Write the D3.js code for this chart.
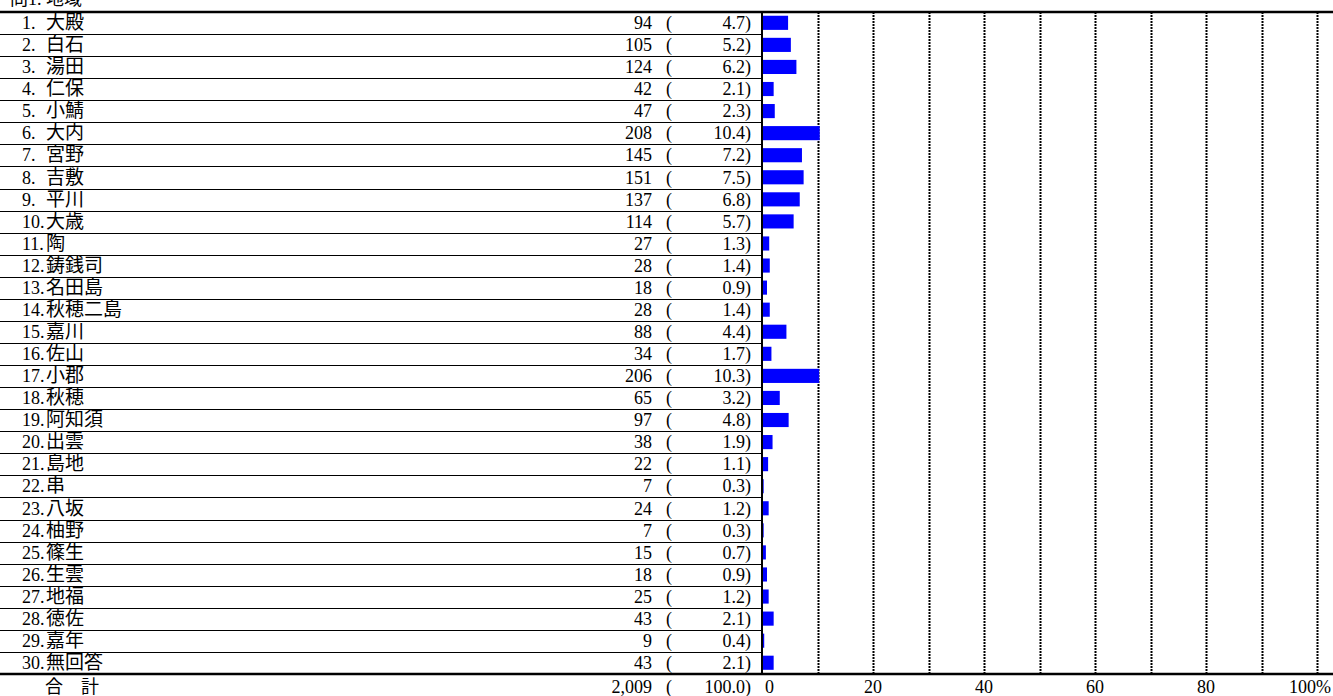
<!DOCTYPE html>
<html>
<head>
<meta charset="utf-8">
<script src="https://cdn.jsdelivr.net/npm/d3@7"></script>
<style>
  body { margin: 0; background: #fff; }
  text { font-family: "Liberation Serif", "Noto Sans CJK JP", serif; fill: #000; }
</style>
</head>
<body>
<div id="chart"></div>
<script>
// data
const titleText = "問1. 地域";
const nums = ["1.", "2.", "3.", "4.", "5.", "6.", "7.", "8.", "9.", "10.",
  "11.", "12.", "13.", "14.", "15.", "16.", "17.", "18.", "19.", "20.",
  "21.", "22.", "23.", "24.", "25.", "26.", "27.", "28.", "29.", "30."];
const names = ["大殿", "白石", "湯田", "仁保", "小鯖", "大内", "宮野", "吉敷", "平川", "大歳",
  "陶", "鋳銭司", "名田島", "秋穂二島", "嘉川", "佐山", "小郡", "秋穂", "阿知須", "出雲",
  "島地", "串", "八坂", "柚野", "篠生", "生雲", "地福", "徳佐", "嘉年", "無回答"];
const counts = [94, 105, 124, 42, 47, 208, 145, 151, 137, 114,
  27, 28, 18, 28, 88, 34, 206, 65, 97, 38,
  22, 7, 24, 7, 15, 18, 25, 43, 9, 43];
const pcts = [4.7, 5.2, 6.2, 2.1, 2.3, 10.4, 7.2, 7.5, 6.8, 5.7,
  1.3, 1.4, 0.9, 1.4, 4.4, 1.7, 10.3, 3.2, 4.8, 1.9,
  1.1, 0.3, 1.2, 0.3, 0.7, 0.9, 1.2, 2.1, 0.4, 2.1];
const totalLabel = "合　計";
const totalCount = "2,009";
const totalPct = "100.0";
const gridTicks = [10, 20, 30, 40, 50, 60, 70, 80, 90, 100];
const labelTicks = [0, 20, 40, 60, 80, 100];

const W = 1333, H = 696;
const yTop = 12, yBottom = 674, axisX = 762;

const svg = d3.select("#chart").append("svg")
    .attr("width", W)
    .attr("height", H);

const rows = names.map(function(d, i) { return i; });
const y = d3.scaleBand().domain(rows).range([yTop, yBottom]);
const x = d3.scaleLinear().domain([0, 100]).range([axisX, 1317]);

// title (cut off at the top edge, as in the original)
svg.append("text")
    .attr("x", 10).attr("y", 5)
    .style("font-size", "18px")
    .text(titleText);

// row separators on the table part
svg.selectAll(".sep")
  .data(rows.slice(1))
  .enter().append("line")
    .attr("x1", 0).attr("x2", axisX)
    .attr("y1", function(d) { return Math.round(y(d)) + 0.5; })
    .attr("y2", function(d) { return Math.round(y(d)) + 0.5; })
    .attr("stroke", "#000")
    .attr("stroke-width", 1);

// dotted grid lines
svg.selectAll(".grid")
  .data(gridTicks)
  .enter().append("line")
    .attr("x1", function(d) { return Math.round(x(d)) + 0.5; })
    .attr("x2", function(d) { return Math.round(x(d)) + 0.5; })
    .attr("y1", yTop).attr("y2", yBottom)
    .attr("stroke", "#000")
    .attr("stroke-width", 2)
    .attr("stroke-dasharray", "2,1");

// bars
svg.selectAll(".bar")
  .data(pcts)
  .enter().append("rect")
    .attr("x", x(0))
    .attr("y", function(d, i) { return y(i) + y.bandwidth() * 0.17; })
    .attr("width", function(d) { return x(d) - x(0); })
    .attr("height", y.bandwidth() * 0.64)
    .attr("fill", "#0000ff");

// row labels
const fs = "18px";
const rowG = svg.selectAll(".row")
  .data(rows)
  .enter().append("g")
    .attr("transform", function(d) { return "translate(0," + (y(d) + y.bandwidth() / 2 + 6) + ")"; })
    .style("font-size", fs);
rowG.append("text")
    .attr("x", 22)
    .text(function(d) { return nums[d]; });
rowG.append("text")
    .attr("x", 46)
    .style("font-size", "19px")
    .text(function(d) { return names[d]; });
rowG.append("text")
    .attr("x", 652).attr("text-anchor", "end")
    .text(function(d) { return counts[d]; });
rowG.append("text")
    .attr("x", 666)
    .text("(");
rowG.append("text")
    .attr("x", 751).attr("text-anchor", "end")
    .text(function(d) { return pcts[d].toFixed(1) + ")"; });

// total row
const totG = svg.append("g")
    .attr("transform", "translate(0,693)")
    .style("font-size", fs);
totG.append("text").attr("x", 45).text(totalLabel);
totG.append("text").attr("x", 652).attr("text-anchor", "end").text(totalCount);
totG.append("text").attr("x", 666).text("(");
totG.append("text").attr("x", 751).attr("text-anchor", "end").text(totalPct + ")");

// axis labels
svg.selectAll(".tick-label")
  .data(labelTicks)
  .enter().append("text")
    .attr("x", function(d) { return d === 0 ? x(d) + 3 : (d === 100 ? W - 2 : x(d)); })
    .attr("y", 693)
    .attr("text-anchor", function(d) { return d === 0 ? "start" : (d === 100 ? "end" : "middle"); })
    .style("font-size", "18px")
    .text(function(d) { return d === 100 ? d + "%" : d; });

// axis line and frame lines
svg.append("line")
    .attr("x1", axisX).attr("x2", axisX)
    .attr("y1", yTop).attr("y2", yBottom)
    .attr("stroke", "#000").attr("stroke-width", 2);
svg.append("line")
    .attr("x1", 0).attr("x2", W)
    .attr("y1", yTop).attr("y2", yTop)
    .attr("stroke", "#000").attr("stroke-width", 2.5);
svg.append("line")
    .attr("x1", 0).attr("x2", W)
    .attr("y1", yBottom).attr("y2", yBottom)
    .attr("stroke", "#000").attr("stroke-width", 2.5);
</script>
</body>
</html>
